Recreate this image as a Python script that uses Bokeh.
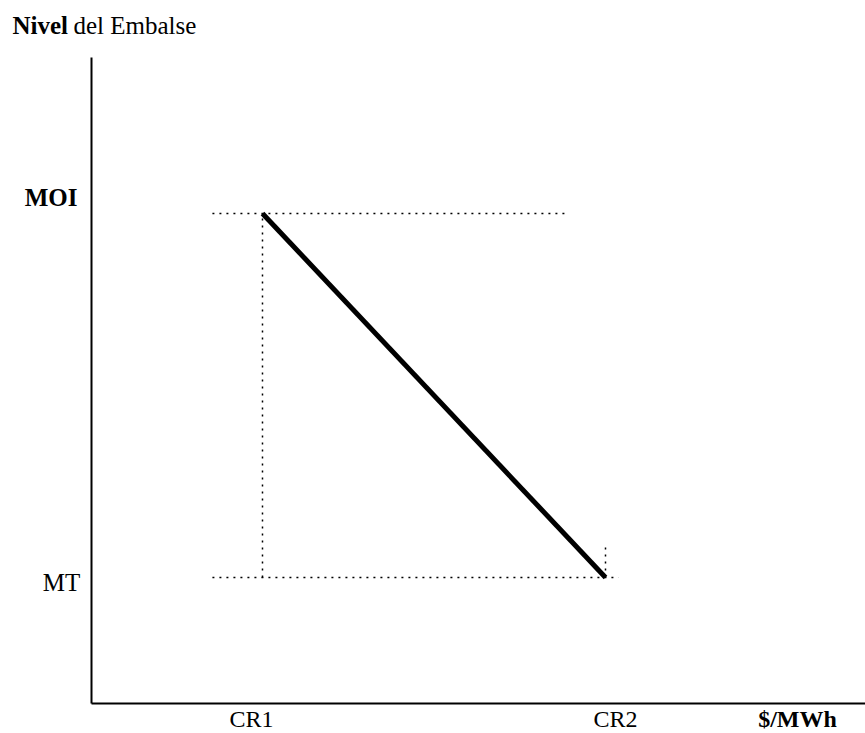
from bokeh.plotting import figure
from bokeh.models import Range1d
from bokeh.core.properties import value
from bokeh.embed import file_html
from bokeh.resources import INLINE

# ---- data ----
price_labels = ["CR1", "CR2"]
price_vals = [1.0, 2.0]
price_label_offsets = [-0.032, 0.029]
level_labels = ["MT", "MOI"]
level_vals = [1.0, 2.0]
unit_label = "$/MWh"
title_bold = "Nivel"
title_rest = "del Embalse"

# rule curve: at CR1 the level is MOI, at CR2 it is MT
curve_x = [1.0, 2.0]
curve_y = [2.0, 1.0]

# dotted guide extents
top_guide_x = [0.854, 1.892]
bottom_guide_x = [0.854, 2.038]
cr2_tick_top = 1.088

# axis placement (data units)
axis_x0 = 0.5015
axis_y0 = 0.6538
axis_y_top = 2.4286
axis_x_right = 2.758

FONT = "Liberation Serif"

p = figure(width=865, height=733, output_backend="svg", toolbar_location=None,
           x_range=Range1d(0.2362, 2.758), y_range=Range1d(0.5714, 2.5852),
           min_border=0)
p.outline_line_color = None
p.grid.visible = False
p.axis.visible = False
p.background_fill_color = "white"
p.border_fill_color = "white"

# axes
p.line(x=[axis_x0, axis_x0], y=[axis_y0, axis_y_top], line_color="black", line_width=2)
p.line(x=[axis_x0, axis_x_right], y=[axis_y0, axis_y0], line_color="black", line_width=2)

dot = dict(line_color="black", line_width=1.5, line_dash="2 5")
p.line(x=top_guide_x, y=[level_vals[1], level_vals[1]], **dot)
p.line(x=bottom_guide_x, y=[level_vals[0], level_vals[0]], **dot)
p.line(x=[price_vals[0], price_vals[0]], y=[level_vals[0], level_vals[1]], **dot)
p.line(x=[price_vals[1], price_vals[1]], y=[level_vals[0], cr2_tick_top], **dot)

# main curve
p.line(x=curve_x, y=curve_y, line_color="black", line_width=5)

txt = dict(text_font=value(FONT), text_font_size="25px", text_color="black",
           text_baseline="middle")
txt_low = dict(txt, text_font_size="24px")

# level labels
p.text(x=[0.4606], y=[level_vals[1] + 0.044], text=[level_labels[1]],
       text_align="right", text_font_style="bold", **txt)
p.text(x=[0.469], y=[level_vals[0] - 0.014], text=[level_labels[0]],
       text_align="right", **txt)

# price labels
p.text(x=[v + o for v, o in zip(price_vals, price_label_offsets)],
       y=[0.612] * len(price_vals), text=price_labels, text_align="center", **txt_low)
p.text(x=[2.5598], y=[0.612], text=[unit_label], text_align="center",
       text_font_style="bold", **txt_low)

# title
p.text(x=[0.271], y=[2.516], text=[title_bold], text_align="left",
       text_font_style="bold", **txt)
p.text(x=[0.449], y=[2.516], text=[title_rest], text_align="left", **txt)

open("out.html", "w").write(file_html(p, INLINE))
